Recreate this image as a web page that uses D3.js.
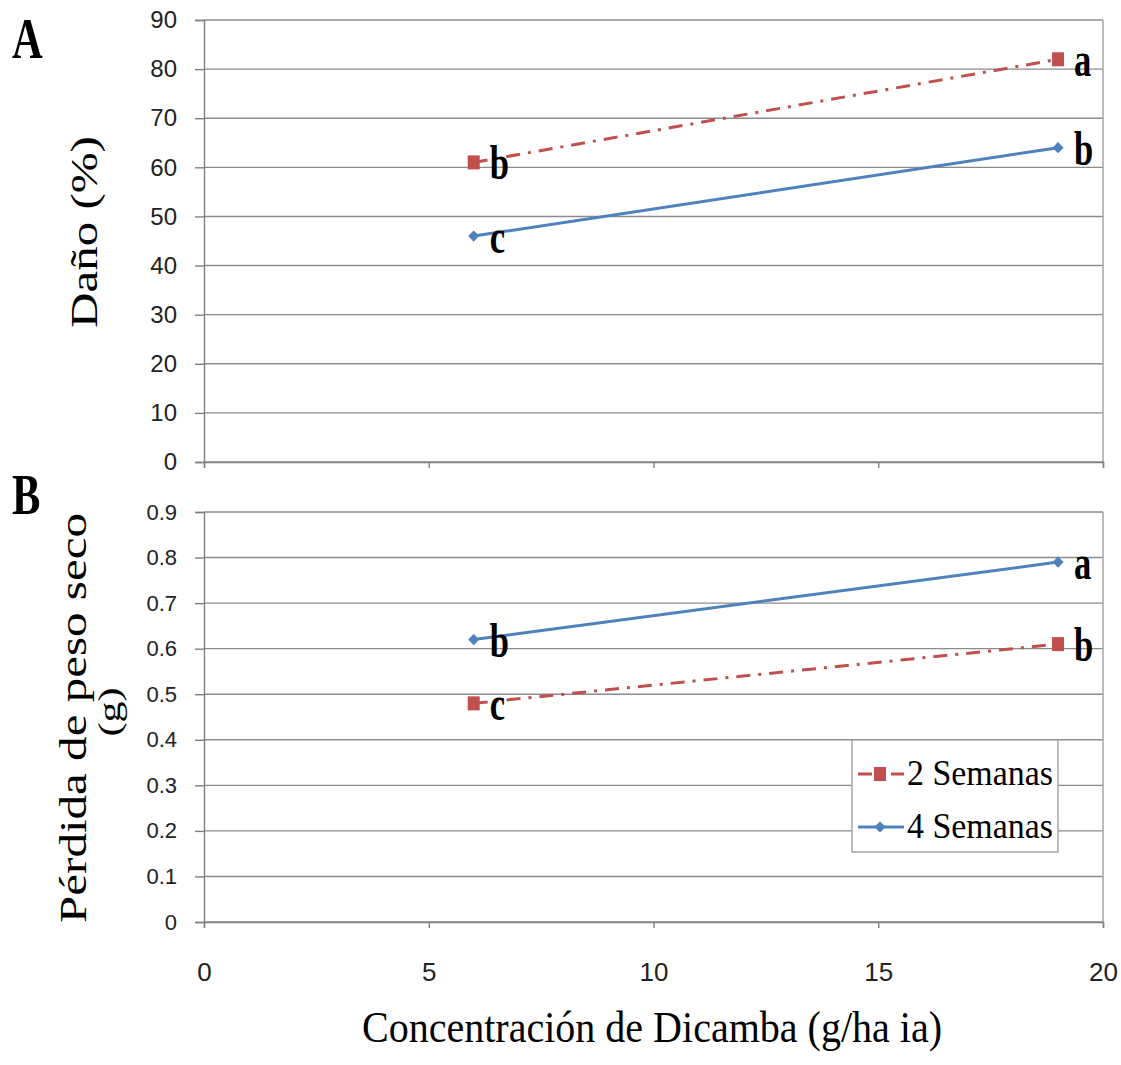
<!DOCTYPE html>
<html>
<head>
<meta charset="utf-8">
<script src="https://cdn.jsdelivr.net/npm/d3@7"></script>
<style>
  body { margin: 0; background: #fff; }
  svg { display: block; }
</style>
</head>
<body>
<script>
// data
var doses = [6, 19];
var seriesNames = ['2 Semanas', '4 Semanas'];
var danoValues = [[61, 82], [46, 64]];
var danoLetters = [['b', 'a'], ['c', 'b']];
var pesoValues = [[0.48, 0.61], [0.62, 0.79]];
var pesoLetters = [['c', 'b'], ['b', 'a']];
var xTicks = [0, 5, 10, 15, 20];
var danoTicks = [0, 10, 20, 30, 40, 50, 60, 70, 80, 90];
var pesoTicks = [0, 0.1, 0.2, 0.3, 0.4, 0.5, 0.6, 0.7, 0.8, 0.9];

var colors = ['#C0504D', '#4F81BD'];
var dashes = ['14,8,3,8', null];
var serif = 'Liberation Serif, Times New Roman, serif';
var sans = 'Liberation Sans, Arial, sans-serif';
var squish = 0.76; // the original figure is narrowed horizontally

var svg = d3.select('body').append('svg')
    .attr('width', 1121)
    .attr('height', 1065);

//shared x scale
var xscale = d3.scaleLinear().domain([0, 20]).range([204, 1103]);

function marker(g, s, cx, cy) {
    if (s === 0) {
        g.append('rect')
            .attr('x', cx - 6).attr('y', cy - 7)
            .attr('width', 12).attr('height', 14)
            .style('fill', colors[s]);
    } else {
        g.append('path')
            .attr('d', d3.symbol().type(d3.symbolDiamond2).size(80)())
            .attr('transform', 'translate(' + cx + ',' + cy + ')')
            .style('fill', colors[s]);
    }
}

function panel(values, letters, ticks, top, bottom, fmt, showX, tickFont) {
    var yscale = d3.scaleLinear().domain([0, ticks[ticks.length - 1]]).range([bottom, top]);
    var g = svg.append('g');

    //gridlines
    g.selectAll('.grid').data(ticks).enter().append('line')
        .attr('x1', xscale(0)).attr('x2', xscale(20))
        .attr('y1', function (d) { return yscale(d); })
        .attr('y2', function (d) { return yscale(d); })
        .style('stroke', '#8c8c8c').style('stroke-width', 1.4);

    //right border
    g.append('line')
        .attr('x1', xscale(20)).attr('x2', xscale(20))
        .attr('y1', top).attr('y2', bottom)
        .style('stroke', '#a0a0a0').style('stroke-width', 1.4);

    //y axis
    var yaxis = d3.axisLeft(yscale).tickValues(ticks).tickSize(9).tickPadding(18).tickFormat(fmt);
    var ya = g.append('g').attr('transform', 'translate(' + xscale(0) + ',0)').call(yaxis);
    ya.selectAll('path, line').style('stroke', '#808080').style('stroke-width', 1.4);
    ya.selectAll('text').style('font-family', sans).style('font-size', tickFont).style('fill', '#222');

    //x axis
    var xaxis = d3.axisBottom(xscale).tickValues(xTicks).tickSize(6).tickPadding(35)
        .tickFormat(showX ? d3.format('d') : '');
    var xa = g.append('g').attr('transform', 'translate(0,' + bottom + ')').call(xaxis);
    xa.selectAll('path, line').style('stroke', '#808080').style('stroke-width', 1.4);
    xa.selectAll('text').style('font-family', sans).style('font-size', '26px').style('fill', '#222');

    //lines
    var line = d3.line()
        .x(function (d, i) { return xscale(doses[i]); })
        .y(function (d) { return yscale(d); });

    values.forEach(function (vals, s) {
        g.append('path')
            .attr('d', line(vals))
            .style('fill', 'none')
            .style('stroke', colors[s])
            .style('stroke-width', 3)
            .style('stroke-dasharray', dashes[s]);

        vals.forEach(function (v, i) {
            var cx = xscale(doses[i]), cy = yscale(v);
            marker(g, s, cx, cy);
            g.append('text')
                .attr('transform', 'translate(' + (cx + 16) + ',' + (cy + 17) + ') scale(0.72,1)')
                .style('font-family', serif).style('font-weight', 'bold')
                .style('font-size', '48px')
                .text(letters[s][i]);
        });
    });
}

panel(danoValues, danoLetters, danoTicks, 20, 462, d3.format('d'), false, '24px');
panel(pesoValues, pesoLetters, pesoTicks, 512, 922, function (d) { return d === 0 ? '0' : d3.format('.1f')(d); }, true, '22px');

//panel letters
svg.append('text').attr('transform', 'translate(12,58) scale(' + squish + ',1)')
    .style('font-family', serif).style('font-weight', 'bold').style('font-size', '56px').text('A');
svg.append('text').attr('transform', 'translate(12,514) scale(' + squish + ',1)')
    .style('font-family', serif).style('font-weight', 'bold').style('font-size', '56px').text('B');

//axis titles
svg.append('text')
    .attr('transform', 'translate(97,232) rotate(-90) scale(1,' + squish + ')')
    .attr('text-anchor', 'middle')
    .style('font-family', serif).style('font-size', '49px')
    .text('Daño (%)');
svg.append('text')
    .attr('transform', 'translate(86,718) rotate(-90) scale(1,' + squish + ')')
    .attr('text-anchor', 'middle')
    .attr('textLength', 410).attr('lengthAdjust', 'spacingAndGlyphs')
    .style('font-family', serif).style('font-size', '49px')
    .text('Pérdida de peso seco');
svg.append('text')
    .attr('transform', 'translate(120,712) rotate(-90) scale(1,' + squish + ')')
    .attr('text-anchor', 'middle')
    .style('font-family', serif).style('font-size', '42px')
    .text('(g)');
svg.append('text')
    .attr('x', 652).attr('y', 1042)
    .attr('text-anchor', 'middle')
    .attr('textLength', 580).attr('lengthAdjust', 'spacingAndGlyphs')
    .style('font-family', serif).style('font-size', '45px')
    .text('Concentración de Dicamba (g/ha ia)');

//legend
var legend = svg.append('g').attr('transform', 'translate(852,740)');
legend.append('rect')
    .attr('width', 206).attr('height', 112)
    .style('fill', '#fff').style('stroke', '#a0a0a0').style('stroke-width', 1.4);
seriesNames.forEach(function (name, s) {
    var ly = 34 + s * 53;
    legend.append('line')
        .attr('x1', 6).attr('x2', 52).attr('y1', ly).attr('y2', ly)
        .style('stroke', colors[s]).style('stroke-width', 3)
        .style('stroke-dasharray', dashes[s]);
    marker(legend, s, 28, ly);
    legend.append('text')
        .attr('x', 55).attr('y', ly + 11)
        .attr('textLength', 146).attr('lengthAdjust', 'spacingAndGlyphs')
        .style('font-family', serif).style('font-size', '35px')
        .text(name);
});
</script>
</body>
</html>
